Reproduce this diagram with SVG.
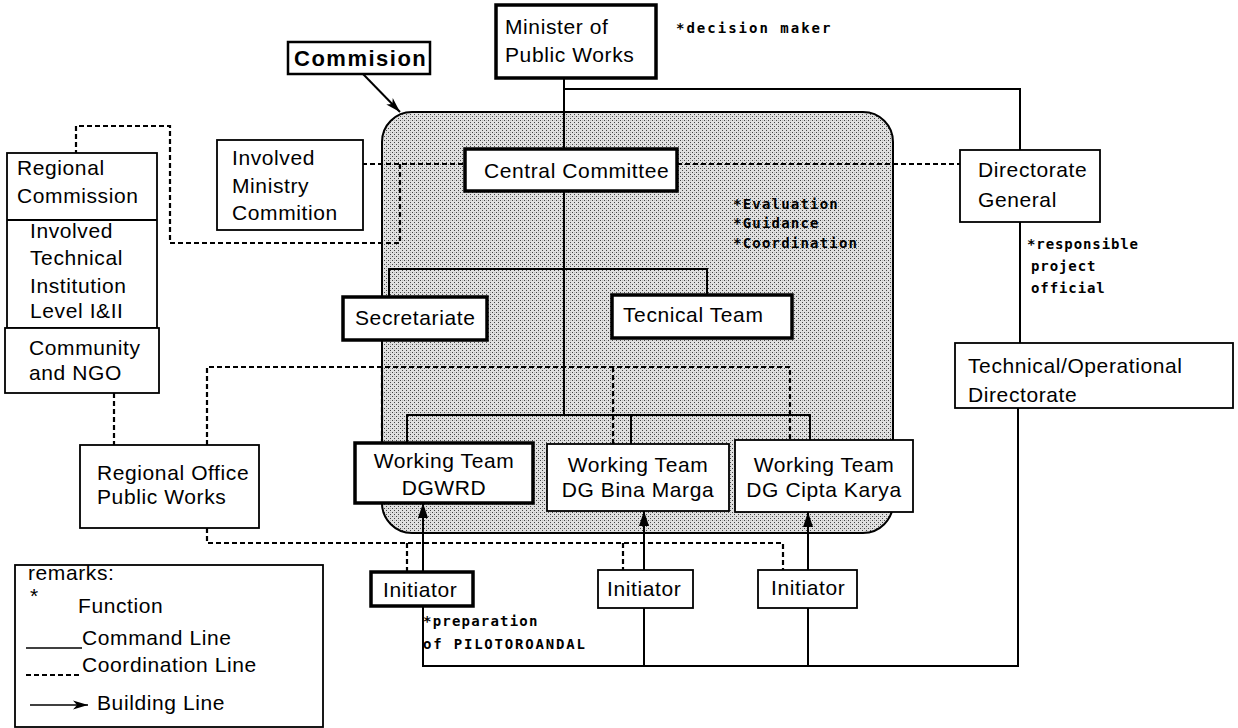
<svg xmlns="http://www.w3.org/2000/svg" width="1238" height="728" viewBox="0 0 1238 728">
<defs>
<style>
.box{fill:#fff;stroke:#000;stroke-width:1.8}
.tbox{fill:#fff;stroke:#000;stroke-width:3.5}
.t{font-family:"Liberation Sans",Arial,sans-serif;font-size:21px;fill:#000;letter-spacing:0.6px}
.tb{font-family:"Liberation Sans",Arial,sans-serif;font-size:22px;font-weight:bold;fill:#000;letter-spacing:1.5px}
.a{font-family:"DejaVu Sans Mono",monospace;font-size:14px;font-weight:bold;fill:#000;letter-spacing:1.2px}
.cmd{fill:none;stroke:#000;stroke-width:2}
.crd{fill:none;stroke:#000;stroke-width:2.2;stroke-dasharray:5 3}
.bld{fill:none;stroke:#000;stroke-width:2}
</style>
<pattern id="dots" width="4" height="4" patternUnits="userSpaceOnUse">
<rect width="4" height="4" fill="#e0e0e0"/>
<rect x="0" y="0" width="1" height="1" fill="#444"/>
<rect x="2" y="2" width="1" height="1" fill="#444"/>
<rect x="2" y="0" width="1" height="1" fill="#bbb"/>
</pattern>
<marker id="ah2" viewBox="0 0 15 11" refX="15" refY="5.5" markerWidth="15" markerHeight="11" orient="auto" markerUnits="userSpaceOnUse">
<path d="M0,0.5 L15,5.5 L0,10.5 z" fill="#000"/>
</marker>
<marker id="ah3" viewBox="0 0 15 11" refX="15" refY="5.5" markerWidth="15" markerHeight="11" orient="auto" markerUnits="userSpaceOnUse">
<path d="M0,1 L15,5.5 L0,10 L4,5.5 z" fill="#000"/>
</marker>
</defs>

<rect id="commission-area" x="382" y="112" width="511" height="421" rx="30" ry="30" fill="url(#dots)" stroke="#000" stroke-width="2"/>

<g id="connectors">
<path class="cmd" d="M564 78 V149"/>
<path class="cmd" d="M564 89 H1020 V150"/>
<path class="cmd" d="M564 191 V415"/>
<path class="cmd" d="M389 297 V269 H707 V295"/>
<path class="cmd" d="M407 443 V415 H810 V440"/>
<path class="cmd" d="M631 415 V444"/>
<path class="cmd" d="M1020 222 V343"/>
<path class="cmd" d="M1018 408 V666 H423 V606"/>
<path class="cmd" d="M644 608 V666"/>
<path class="cmd" d="M808 608 V666"/>
<path class="bld" d="M423 572 V503" marker-end="url(#ah2)"/>
<path class="bld" d="M644 570 V511" marker-end="url(#ah2)"/>
<path class="bld" d="M808 570 V512" marker-end="url(#ah2)"/>
<path class="cmd" d="M363 74 L400 112" marker-end="url(#ah3)"/>
<path class="crd" d="M362 164 H465"/>
<path class="crd" d="M400 164 V243 H170 V126 H76 V153"/>
<path class="crd" d="M677 164 H960"/>
<path class="crd" d="M114 393 V445"/>
<path class="crd" d="M207 445 V367 H790 V440"/>
<path class="crd" d="M382 367 V443"/>
<path class="crd" d="M613 367 V444"/>
<path class="crd" d="M207 528 V543 H783 V570"/>
<path class="crd" d="M407 543 V572"/>
<path class="crd" d="M623 543 V570"/>
</g>

<g id="minister">
<rect class="tbox" x="496" y="5" width="160" height="73"/>
<text class="t" x="505" y="34">Minister of</text>
<text class="t" x="505" y="62">Public Works</text>
</g>
<text class="a" x="676" y="33" style="letter-spacing:2px">*decision maker</text>

<g id="commision">
<rect class="box" x="288" y="42" width="142" height="32" style="stroke-width:2.5"/>
<text class="tb" x="294" y="66">Commision</text>
</g>

<g id="central-committee">
<rect class="tbox" x="465" y="149" width="212" height="42"/>
<text class="t" x="484" y="178">Central Committee</text>
</g>
<g id="functions">
<text class="a" x="733" y="209">*Evaluation</text>
<text class="a" x="733" y="228">*Guidance</text>
<text class="a" x="733" y="248">*Coordination</text>
</g>

<g id="involved-ministry">
<rect class="box" x="217" y="140" width="146" height="90"/>
<text class="t" x="232" y="165">Involved</text>
<text class="t" x="232" y="193">Ministry</text>
<text class="t" x="232" y="220">Commition</text>
</g>

<g id="regional-commission">
<rect class="box" x="7" y="153" width="150" height="175"/>
<line x1="7" y1="220" x2="157" y2="220" stroke="#000" stroke-width="1.8"/>
<text class="t" x="17" y="175">Regional</text>
<text class="t" x="17" y="203">Commission</text>
<text class="t" x="30" y="238">Involved</text>
<text class="t" x="30" y="265">Technical</text>
<text class="t" x="30" y="293">Institution</text>
<text class="t" x="30" y="318">Level I&amp;II</text>
</g>

<g id="community-ngo">
<rect class="box" x="5" y="328" width="154" height="65"/>
<text class="t" x="29" y="355">Community</text>
<text class="t" x="29" y="380">and NGO</text>
</g>

<g id="regional-office">
<rect class="box" x="80" y="445" width="179" height="83"/>
<text class="t" x="97" y="480">Regional Office</text>
<text class="t" x="97" y="504">Public Works</text>
</g>

<g id="secretariate">
<rect class="tbox" x="343" y="297" width="144" height="43"/>
<text class="t" x="355" y="325">Secretariate</text>
</g>

<g id="technical-team">
<rect class="tbox" x="612" y="295" width="180" height="43"/>
<text class="t" x="623" y="322">Tecnical Team</text>
</g>

<g id="wt-dgwrd">
<rect class="tbox" x="355" y="443" width="178" height="60"/>
<text class="t" x="444" y="468" text-anchor="middle">Working Team</text>
<text class="t" x="444" y="495" text-anchor="middle">DGWRD</text>
</g>

<g id="wt-bina-marga">
<rect class="box" x="547" y="444" width="182" height="67"/>
<text class="t" x="638" y="472" text-anchor="middle">Working Team</text>
<text class="t" x="638" y="497" text-anchor="middle">DG Bina Marga</text>
</g>

<g id="wt-cipta-karya">
<rect class="box" x="735" y="440" width="178" height="72"/>
<text class="t" x="824" y="472" text-anchor="middle">Working Team</text>
<text class="t" x="824" y="497" text-anchor="middle">DG Cipta Karya</text>
</g>

<g id="initiator-1">
<rect class="tbox" x="371" y="572" width="102" height="34"/>
<text class="t" x="383" y="597">Initiator</text>
</g>
<text class="a" x="423" y="626">*preparation</text>
<text class="a" x="423" y="649" style="letter-spacing:1.8px">of PILOTOROANDAL</text>

<g id="initiator-2">
<rect class="box" x="598" y="570" width="95" height="38"/>
<text class="t" x="607" y="596">Initiator</text>
</g>

<g id="initiator-3">
<rect class="box" x="758" y="570" width="99" height="38"/>
<text class="t" x="771" y="595">Initiator</text>
</g>

<g id="directorate-general">
<rect class="box" x="960" y="150" width="140" height="72"/>
<text class="t" x="978" y="177">Directorate</text>
<text class="t" x="978" y="207">General</text>
</g>
<g id="dg-function">
<text class="a" x="1027" y="249" style="letter-spacing:0.9px">*responsible</text>
<text class="a" x="1031" y="271" style="letter-spacing:0.9px">project</text>
<text class="a" x="1031" y="293" style="letter-spacing:0.9px">official</text>
</g>

<g id="tech-op-directorate">
<rect class="box" x="955" y="343" width="278" height="65"/>
<text class="t" x="968" y="373">Technical/Operational</text>
<text class="t" x="968" y="402">Directorate</text>
</g>

<g id="legend">
<rect class="box" x="15" y="565" width="308" height="162"/>
<text class="t" x="28" y="580">remarks:</text>
<text class="t" x="30" y="603">*</text>
<text class="t" x="78" y="613">Function</text>
<line x1="26" y1="648" x2="82" y2="648" stroke="#000" stroke-width="1.5"/>
<text class="t" x="82" y="645">Command Line</text>
<line x1="26" y1="675" x2="82" y2="675" stroke="#000" stroke-width="2" stroke-dasharray="5 3"/>
<text class="t" x="82" y="672">Coordination Line</text>
<path d="M30 705 H88" stroke="#000" stroke-width="1.5" marker-end="url(#ah3)"/>
<text class="t" x="97" y="710">Building Line</text>
</g>
</svg>
